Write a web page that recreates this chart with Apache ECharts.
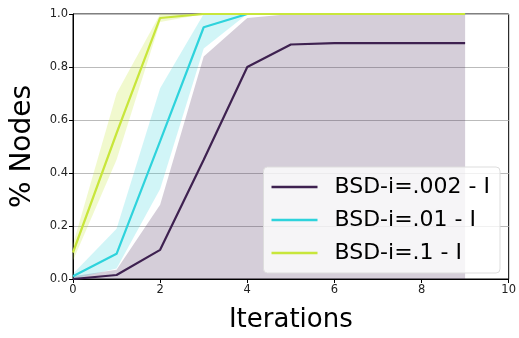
<!DOCTYPE html>
<html><head><meta charset="utf-8">
<script src="https://cdn.jsdelivr.net/npm/echarts@6/dist/echarts.min.js"></script>
<style>html,body{margin:0;padding:0;background:#fff}#c{width:519px;height:338px}</style>
</head><body><div id="c"></div>
<script>
const iters = [0,1,2,3,4,5,6,7,8,9];
const seriesNames = ['BSD-i=.002 - I','BSD-i=.01 - I','BSD-i=.1 - I'];
const darkMean = [0.0,0.015,0.11,0.45,0.80,0.885,0.89,0.89,0.89,0.89];
const darkLo   = [0,0,0,0,0,0,0,0,0,0];
const darkHi   = [0.01,0.035,0.28,0.84,0.985,1,1,1,1,1];
const cyanMean = [0.01,0.095,0.52,0.95,1,1,1,1,1,1];
const cyanLo   = [0.0,0.04,0.34,0.87,1,1,1,1,1,1];
const cyanHi   = [0.02,0.19,0.72,1.0,1,1,1,1,1,1];
const limeMean = [0.10,0.55,0.985,1,1,1,1,1,1,1];
const limeLo   = [0.07,0.45,0.97,1,1,1,1,1,1,1];
const limeHi   = [0.13,0.70,1.0,1,1,1,1,1,1,1];

const colors = ['#3e2150','#2ed3dc','#c8e63b'];
const bandColors = ['rgba(62,33,80,0.22)','rgba(46,211,220,0.22)','rgba(200,230,59,0.25)'];

function band(lo, hi, color){
  const rows = iters.map((x,i)=>[x, lo[i], hi[i]]);
  return {
    type:'custom', silent:true, z:1,
    data: rows,
    encode:{x:0,y:[1,2]},
    renderItem:function(params, api){
      if (params.dataIndex !== 0) return null;
      const pts = [];
      for (let i=0;i<rows.length;i++) pts.push(api.coord([rows[i][0], rows[i][2]]));
      for (let i=rows.length-1;i>=0;i--) pts.push(api.coord([rows[i][0], rows[i][1]]));
      return {type:'polygon', shape:{points:pts}, style:{fill:color}};
    }
  };
}
function line(name, vals, color){
  return {
    type:'line', name:name, z:3, symbol:'none',
    data: iters.map((x,i)=>[x, vals[i]]),
    lineStyle:{color:color, width:2.2}, itemStyle:{color:color}
  };
}
const chart = echarts.init(document.getElementById('c'), null, {renderer:'canvas'});
chart.setOption({
  animation:false,
  textStyle:{fontFamily:'DejaVu Sans'},
  grid:{left:73, right:8, top:14, bottom:54, show:true, borderColor:'#000', borderWidth:1, backgroundColor:'transparent'},
  xAxis:{type:'value', min:0, max:10, interval:2,
    name:'Iterations', nameLocation:'middle', nameGap:28,
    nameTextStyle:{fontSize:26, color:'#000', fontFamily:'DejaVu Sans'},
    axisLine:{show:true, lineStyle:{color:'#000', width:1}},
    axisTick:{show:true, length:4, lineStyle:{color:'#000'}},
    axisLabel:{fontSize:11.5, color:'#222', margin:5, formatter:v=>String(v)},
    splitLine:{show:false}},
  yAxis:{type:'value', min:0, max:1, interval:0.2,
    name:'% Nodes', nameLocation:'middle', nameGap:36, nameRotate:90,
    nameTextStyle:{fontSize:28, color:'#000', fontFamily:'DejaVu Sans'},
    axisLine:{show:true, lineStyle:{color:'#000', width:1}},
    axisTick:{show:true, length:4, lineStyle:{color:'#000'}},
    axisLabel:{fontSize:11.5, color:'#222', margin:5, formatter:v=>v.toFixed(1)},
    splitLine:{show:true, lineStyle:{color:'#bbbbbb', width:1}}},
  legend:{data:seriesNames, orient:'vertical', right:19, top:167,
    icon:'rect', itemWidth:46, itemHeight:2.5, itemGap:11,
    padding:[9,10,9,8],
    backgroundColor:'rgba(255,255,255,0.8)', borderColor:'#ddd', borderWidth:1, borderRadius:4,
    textStyle:{fontSize:22, color:'#000', padding:[0,0,0,12], fontFamily:'DejaVu Sans'}},
  series:[
    band(darkLo, darkHi, bandColors[0]),
    band(cyanLo, cyanHi, bandColors[1]),
    band(limeLo, limeHi, bandColors[2]),
    line(seriesNames[0], darkMean, colors[0]),
    line(seriesNames[1], cyanMean, colors[1]),
    line(seriesNames[2], limeMean, colors[2])
  ]
});
</script></body></html>
